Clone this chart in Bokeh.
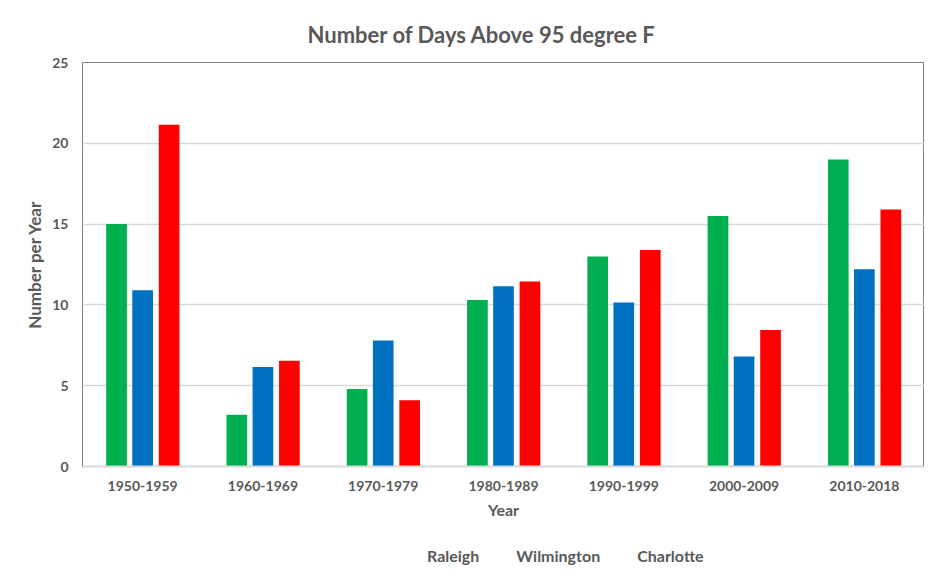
from bokeh.plotting import figure
from bokeh.layouts import column
from bokeh.models import FactorRange, ColumnDataSource, Legend, LegendItem
from bokeh.transform import dodge
from bokeh.embed import file_html
from bokeh.resources import INLINE

decades = ["1950-1959", "1960-1969", "1970-1979", "1980-1989", "1990-1999", "2000-2009", "2010-2018"]
raleigh = [15.0, 3.2, 4.8, 10.3, 13.0, 15.5, 19.0]
wilmington = [10.9, 6.15, 7.8, 11.15, 10.15, 6.8, 12.2]
charlotte = [21.15, 6.55, 4.1, 11.45, 13.4, 8.45, 15.9]
series_names = ["Raleigh", "Wilmington", "Charlotte"]
series_colors = ["#00B050", "#0070C0", "#FF0000"]

FONT = "Lato"
TXT = "#595959"

src = ColumnDataSource(dict(x=decades, Raleigh=raleigh, Wilmington=wilmington, Charlotte=charlotte))

p = figure(frame_width=842, frame_height=404, x_range=FactorRange(*decades), y_range=(0, 25),
           output_backend="svg", toolbar_location=None,
           min_border_left=82, min_border_right=0, min_border_top=62, min_border_bottom=52)

offsets = [-0.217, 0.0, 0.22]
for name, color, off in zip(series_names, series_colors, offsets):
    p.vbar(x=dodge("x", off, range=p.x_range), top=name, width=0.172, source=src,
           fill_color=color, line_color=None)

p.title.text = "Number of Days Above 95 degree F"
p.title.text_font = FONT
p.title.text_font_size = "22px"
p.title.text_font_style = "bold"
p.title.text_color = TXT
p.title.align = "left"
p.title.offset = 225
p.title.standoff = 29

p.outline_line_color = "#7F7F7F"
p.outline_line_width = 1

p.xgrid.grid_line_color = None
p.ygrid.grid_line_color = "#D9D9D9"
p.ygrid.grid_line_width = 1.5

p.yaxis.ticker = [0, 5, 10, 15, 20, 25]
p.yaxis.axis_line_color = None
p.yaxis.major_tick_line_color = None
p.yaxis.minor_tick_line_color = None
p.yaxis.major_label_standoff = 8
p.yaxis.major_label_text_font = FONT
p.yaxis.major_label_text_font_size = "14px"
p.yaxis.major_label_text_font_style = "bold"
p.yaxis.major_label_text_color = TXT
p.yaxis.axis_label = "Number per Year"
p.yaxis.axis_label_text_font = FONT
p.yaxis.axis_label_text_font_size = "17px"
p.yaxis.axis_label_text_font_style = "bold"
p.yaxis.axis_label_text_color = TXT
p.yaxis.axis_label_standoff = 4

p.xaxis.axis_line_color = "#D9D9D9"
p.xaxis.axis_line_width = 2
p.xaxis.major_tick_line_color = None
p.xaxis.minor_tick_line_color = None
p.xaxis.major_label_standoff = 8
p.xaxis.major_label_text_font = FONT
p.xaxis.major_label_text_font_size = "14px"
p.xaxis.major_label_text_font_style = "bold"
p.xaxis.major_label_text_color = TXT
p.xaxis.axis_label = "Year"
p.xaxis.axis_label_text_font = FONT
p.xaxis.axis_label_text_font_size = "16px"
p.xaxis.axis_label_text_font_style = "bold"
p.xaxis.axis_label_text_color = TXT
p.xaxis.axis_label_standoff = 6

# legend strip below the chart
pl = figure(width=924, height=44, x_range=(0, 1), y_range=(0, 1),
            x_axis_type=None, y_axis_type=None, output_backend="svg", toolbar_location=None,
            min_border=0, outline_line_color=None)
pl.title.visible = False
swatches = []
for name, color in zip(series_names, series_colors):
    r = pl.vbar(x=[], top=[], width=0.1, fill_color=color, line_color=None)
    swatches.append(r)

legend = Legend(items=[LegendItem(label=n, renderers=[r]) for n, r in zip(series_names, swatches)],
                orientation="horizontal", location=(330, 0),
                glyph_width=10, glyph_height=10, label_standoff=5, spacing=22,
                label_text_font=FONT, label_text_font_size="16px", label_text_font_style="bold",
                label_text_color=TXT, border_line_color=None, background_fill_alpha=0,
                padding=0, margin=0)
pl.add_layout(legend, "center")

layout = column(p, pl, spacing=0)
open("out.html", "w").write(file_html(layout, INLINE))
